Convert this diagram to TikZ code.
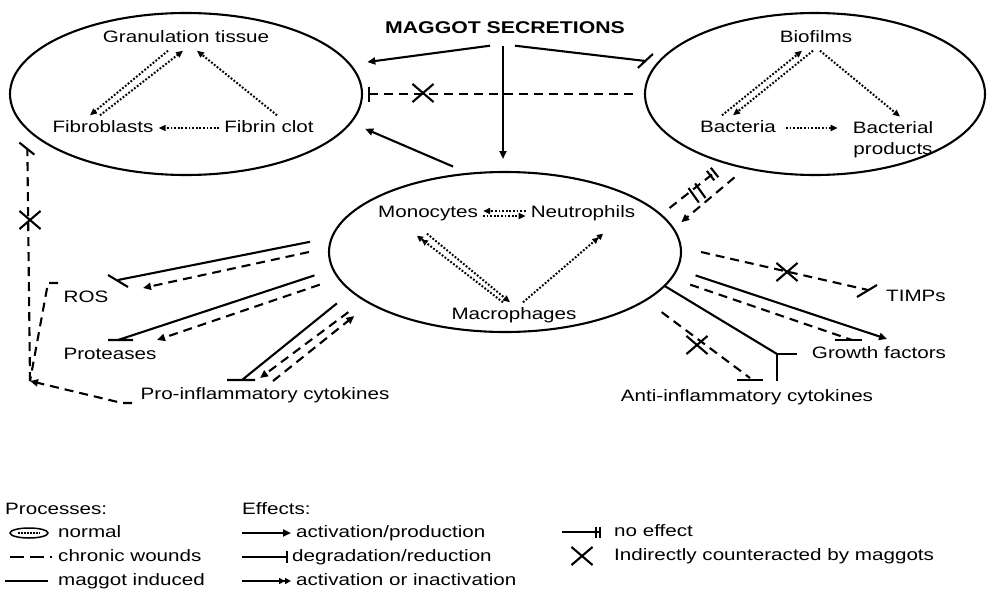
\documentclass[tikz,border=0pt]{standalone}
\usepackage{fontspec}
\setmainfont{Liberation Sans}[FakeStretch=1.25]
\usetikzlibrary{arrows.meta, shapes.geometric, shapes.misc}

\tikzset{
  lbl/.style={inner sep=5pt, text height=12pt, text depth=3pt},
  zone/.style={ellipse, draw, line width=2.1pt, inner sep=0pt},
  normproc/.style={line width=2pt, dash pattern=on 1.8pt off 1.8pt, -{Triangle[length=7pt,width=6pt]}},
  chronproc/.style={line width=2.1pt, dash pattern=on 9pt off 6pt},
  maggproc/.style={line width=2.1pt},
  act/.style={-{Triangle[length=8pt,width=7pt]}},
  dual/.style={-{Triangle[length=6pt,width=6pt]Triangle[length=6pt,width=6pt]}},
  noeff/.style={-{Bar[width=12pt,sep=3pt]Bar[width=12pt]}},
  xmark/.style={draw, cross out, line width=2.1pt, minimum width=19pt, minimum height=16pt, inner sep=0pt},
  legtext/.style={lbl, inner sep=0pt, anchor=west}
}

\begin{document}
\begin{tikzpicture}[x=1pt, y=-1pt, font=\fontsize{16.5}{20}\selectfont]
\useasboundingbox (0,0) rectangle (987,589);

% the three compartments
\node[zone, minimum width=352pt, minimum height=162pt, outer sep=16pt] (granE) at (186,94) {};
\node[zone, minimum width=340pt, minimum height=162pt, outer sep=12pt] (bioE) at (815,94) {};
\node[zone, minimum width=352pt, minimum height=160pt, outer sep=20pt] (immE) at (505,252) {};

\node[lbl, inner ysep=9pt, font=\fontsize{17}{20}\selectfont\bfseries] (maggot) at (505,29) {MAGGOT SECRETIONS};
\node[lbl] (gran) at (186,38) {Granulation tissue};
\node[lbl] (fibro) at (103,128) {Fibroblasts};
\node[lbl] (fibrin) at (269,128) {Fibrin clot};
\node[lbl] (biof) at (816,38) {Biofilms};
\node[lbl] (bact) at (738,128) {Bacteria};
\node[inner sep=5pt, align=center] (bprod) at (893,140) {Bacterial\\[1pt]products};
\node[lbl] (mono) at (428,213) {Monocytes};
\node[lbl] (neutro) at (583,213) {Neutrophils};
\node[lbl] (macro) at (514,315) {Macrophages};
\node[lbl] (ros) at (86,298) {ROS};
\node[lbl] (prot) at (110,355) {Proteases};
\node[lbl] (proinfl) at (265,395) {Pro-inflammatory cytokines};
\node[lbl] (timps) at (916,297) {TIMPs};
\node[lbl] (growth) at (879,354) {Growth factors};
\node[lbl] (antiinfl) at (747,397) {Anti-inflammatory cytokines};

% free ends
\coordinate (rosA) at (118,280);
\coordinate (rosB) at (143,288);
\coordinate (protA) at (118,340);
\coordinate (protB) at (157,340);
\coordinate (proA) at (242,380);
\coordinate (proB) at (260,378);
\coordinate (proC) at (273,381);
\coordinate (timpsA) at (868,290);
\coordinate (growthA) at (887,339);
\coordinate (growthB) at (852,340);
\coordinate (antiA) at (777,354);
\coordinate (antiB) at (750,378);
\coordinate (rosL) at (58,283);
\coordinate (proL) at (132,403);
\coordinate (junc) at (30,381);
\coordinate (nbm) at (697,193);

% normal processes
\draw[normproc] ([xshift=-18pt]gran.south) -- ([xshift=-13pt]fibro.north);
\draw[normproc] ([xshift=-3pt]fibro.north) -- ([xshift=-3pt]gran.south);
\draw[normproc] ([xshift=8pt]fibrin.north) -- ([xshift=11pt]gran.south);
\draw[normproc] (fibrin) -- (fibro);
\draw[normproc] ([xshift=-3pt]biof.south) -- ([xshift=-5pt]bact.north);
\draw[normproc] ([xshift=-16pt]bact.north) -- ([xshift=-14pt]biof.south);
\draw[normproc] ([xshift=4pt]biof.south) -- ([xshift=7pt]bprod.north);
\draw[normproc, shorten <=5pt, shorten >=10pt] (bact.east) -- (bact.east -| bprod.west);
\draw[normproc] ([yshift=2pt]neutro.west) -- ([yshift=2pt]mono.east);
\draw[normproc] ([yshift=-3pt]mono.east) -- ([yshift=-3pt]neutro.west);
\draw[normproc, dual] ([xshift=-11pt]macro.north) -- ([xshift=-11pt,yshift=-10pt]mono.south);
\draw[normproc] ([xshift=-1pt,yshift=-8pt]mono.south) -- ([xshift=-4pt]macro.north);
\draw[normproc, dual] ([xshift=9pt]macro.north) -- ([xshift=20pt,yshift=-8pt]neutro.south);

% maggot secretions
\draw[maggproc, act] ([xshift=-15pt]maggot.south) -- (granE.10);
\draw[maggproc, act, shorten >=-7pt] ([xshift=-2pt]maggot.south) -- ([xshift=-2pt]immE.north);
\draw[maggproc] ([xshift=10pt]maggot.south) -- (bioE.169.5) +(-7,7) -- +(8,-7);
\draw[chronproc, -{Bar[width=15pt]}, shorten >=-10pt] (bioE.west) -- (granE.east);
\draw[maggproc, act, shorten <=-20pt] (immE.127.6) -- (granE.-11.8);

% wound environment
\draw[maggproc] (immE.177.1) -- (rosA) +(-10,-5) -- +(10,7);
\draw[chronproc, act] (immE.180.3) -- (rosB);
\draw[maggproc] (immE.187.2) -- (protA) +(-10,0) -- +(15,0);
\draw[chronproc, act] (immE.190.8) -- (protB);
\draw[maggproc] (immE.197.3) -- (proA) +(-15,0) -- +(13,0);
\draw[chronproc, act] (immE.201.2) -- (proB);
\draw[chronproc, act] (proC) -- (immE.203.2);

\draw[chronproc] (immE.-0.3) -- (timpsA);
\draw[maggproc] (timpsA) +(-11,7) -- +(9,-5);
\draw[maggproc, act] (immE.-7.6) -- (growthA);
\draw[chronproc] (immE.-10.9) -- (growthB);
\draw[maggproc] (growthB) +(-17,0) -- +(10,0);
\draw[maggproc, shorten <=-20pt] (immE.-14.1) -- (antiA);
\draw[maggproc] (antiA) -- +(20,0) (antiA) -- +(0,27);
\draw[chronproc] (immE.-21.1) -- (antiB);
\draw[maggproc] (antiB) +(-13,2) -- +(13,2);

\draw[chronproc, noeff, shorten <=-8pt] (immE.16.2) -- (bioE.218.5);
\draw[chronproc, act, shorten >=-9pt] (bioE.226) -- (immE.11.5);
\draw[maggproc] (nbm) +(-8.5,-5) -- +(1.9,9.6) (nbm) +(-1.9,-9.6) -- +(8.5,5);

\draw[chronproc] (rosL) -- ++(-10,0) -- (junc);
\draw[chronproc, act] (proL) -- ++(-10,0) -- (junc);
\draw[chronproc] (junc) -- (granE.199.7);
\draw[maggproc] (granE.199.7) +(-8,-6) -- +(7,6);

\node[xmark] (xgran) at (423,93) {};
\node[xmark] (xleft) at (30,220) {};
\node[xmark] (xtimps) at (787,272) {};
\node[xmark] (xanti) at (697,345) {};

% legend
\node[legtext] (proc) at (5,510) {Processes:};
\node[legtext] (eff) at (242,510) {Effects:};
\node[legtext] (tNorm) at (58,533) {normal};
\node[legtext] (tChron) at (58,557) {chronic wounds};
\node[legtext] (tMagg) at (58,581) {maggot induced};
\node[legtext] (tAct) at (296,533) {activation/production};
\node[legtext] (tDeg) at (292,557) {degradation/reduction};
\node[legtext] (tDual) at (296,581) {activation or inactivation};
\node[legtext] (tNone) at (614,532) {no effect};
\node[legtext] (tCross) at (614,556) {Indirectly counteracted by maggots};

\node[ellipse, draw, line width=1.5pt, minimum width=38pt, minimum height=10pt, inner sep=0pt] (lgNorm) at (29,533) {};
\draw[line width=1.5pt, dash pattern=on 1.5pt off 1.5pt] ([xshift=-11pt]lgNorm.center) -- ([xshift=11pt]lgNorm.center);
\draw[line width=2.1pt, dash pattern=on 14pt off 6pt] ([xshift=-48pt]tChron.west) -- ([xshift=-6pt]tChron.west);
\draw[maggproc] ([xshift=-53pt]tMagg.west) -- ([xshift=-10pt]tMagg.west);
\draw[maggproc, act] ([xshift=-54pt]tAct.west) -- ([xshift=-5pt]tAct.west);
\draw[maggproc, -{Bar[width=12pt]}] ([xshift=-50pt]tDeg.west) -- ([xshift=-4pt]tDeg.west);
\draw[maggproc, dual] ([xshift=-54pt]tDual.west) -- ([xshift=-5pt]tDual.west);
\draw[maggproc, -{Bar[width=11pt,sep=2pt]Bar[width=11pt]}] ([xshift=-52pt]tNone.west) -- ([xshift=-13pt]tNone.west);
\node[xmark] (lgCross) at (582,556) {};
\end{tikzpicture}
\end{document}
